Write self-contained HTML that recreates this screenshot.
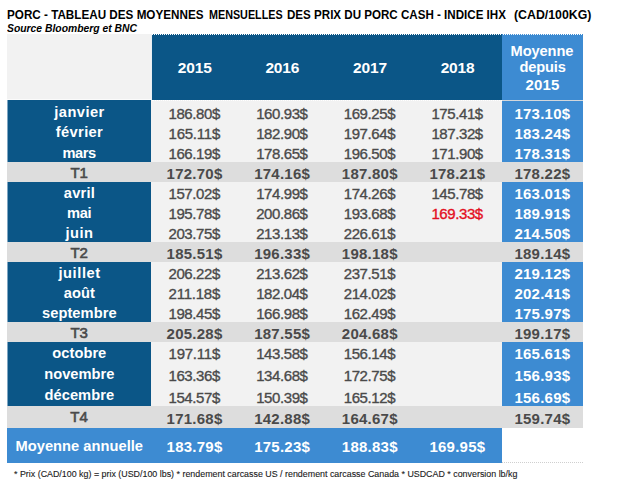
<!DOCTYPE html>
<html><head><meta charset="utf-8"><title>Porc</title>
<style>
html,body{margin:0;padding:0;background:#fff;}
body{width:624px;height:491px;position:relative;overflow:hidden;font-family:"Liberation Sans",sans-serif;}
.b{position:absolute;}
.t{position:absolute;white-space:nowrap;line-height:20px;height:20px;transform-origin:0 50%;}
.tb{font-weight:bold;}
.tr{font-weight:normal;-webkit-text-stroke:0.35px currentColor;}
.tbi{font-weight:bold;font-style:italic;}
.tl{font-weight:normal;-webkit-text-stroke:0.6px currentColor;}
.tf{font-weight:normal;-webkit-text-stroke:0.12px currentColor;}
</style></head><body>
<div class="b" style="left:7px;top:34px;width:144px;height:66px;background:#f2f2f2;"></div>
<div class="b" style="left:151px;top:35px;width:351px;height:65px;background:#0b5687;"></div>
<div class="b" style="left:502px;top:35px;width:81px;height:65px;background:#3d8bd2;"></div>
<div class="b" style="left:151px;top:34px;width:351px;height:0;border-top:1px dotted #0b5687;"></div>
<div class="b" style="left:502px;top:34px;width:81px;height:0;border-top:1px dotted #3d8bd2;"></div>
<div class="b" style="left:151px;top:34px;width:1px;height:66px;background:#e9eef3;"></div>
<div class="b" style="left:7px;top:100px;width:144px;height:21px;background:#0b5687;"></div>
<div class="b" style="left:151px;top:100px;width:351px;height:21px;background:#f2f2f2;"></div>
<div class="b" style="left:502px;top:100px;width:81px;height:21px;background:#3d8bd2;"></div>
<div class="b" style="left:7px;top:121px;width:144px;height:20px;background:#0b5687;"></div>
<div class="b" style="left:151px;top:121px;width:351px;height:20px;background:#f2f2f2;"></div>
<div class="b" style="left:502px;top:121px;width:81px;height:20px;background:#3d8bd2;"></div>
<div class="b" style="left:7px;top:141px;width:144px;height:21px;background:#0b5687;"></div>
<div class="b" style="left:151px;top:141px;width:351px;height:21px;background:#f2f2f2;"></div>
<div class="b" style="left:502px;top:141px;width:81px;height:21px;background:#3d8bd2;"></div>
<div class="b" style="left:7px;top:162px;width:576px;height:20px;background:#dddddd;"></div>
<div class="b" style="left:7px;top:182px;width:144px;height:20px;background:#0b5687;"></div>
<div class="b" style="left:151px;top:182px;width:351px;height:20px;background:#f2f2f2;"></div>
<div class="b" style="left:502px;top:182px;width:81px;height:20px;background:#3d8bd2;"></div>
<div class="b" style="left:7px;top:202px;width:144px;height:20px;background:#0b5687;"></div>
<div class="b" style="left:151px;top:202px;width:351px;height:20px;background:#f2f2f2;"></div>
<div class="b" style="left:502px;top:202px;width:81px;height:20px;background:#3d8bd2;"></div>
<div class="b" style="left:7px;top:222px;width:144px;height:20px;background:#0b5687;"></div>
<div class="b" style="left:151px;top:222px;width:351px;height:20px;background:#f2f2f2;"></div>
<div class="b" style="left:502px;top:222px;width:81px;height:20px;background:#3d8bd2;"></div>
<div class="b" style="left:7px;top:242px;width:576px;height:20px;background:#dddddd;"></div>
<div class="b" style="left:7px;top:262px;width:144px;height:20px;background:#0b5687;"></div>
<div class="b" style="left:151px;top:262px;width:351px;height:20px;background:#f2f2f2;"></div>
<div class="b" style="left:502px;top:262px;width:81px;height:20px;background:#3d8bd2;"></div>
<div class="b" style="left:7px;top:282px;width:144px;height:20px;background:#0b5687;"></div>
<div class="b" style="left:151px;top:282px;width:351px;height:20px;background:#f2f2f2;"></div>
<div class="b" style="left:502px;top:282px;width:81px;height:20px;background:#3d8bd2;"></div>
<div class="b" style="left:7px;top:302px;width:144px;height:20px;background:#0b5687;"></div>
<div class="b" style="left:151px;top:302px;width:351px;height:20px;background:#f2f2f2;"></div>
<div class="b" style="left:502px;top:302px;width:81px;height:20px;background:#3d8bd2;"></div>
<div class="b" style="left:7px;top:322px;width:576px;height:20px;background:#dddddd;"></div>
<div class="b" style="left:7px;top:342px;width:144px;height:21px;background:#0b5687;"></div>
<div class="b" style="left:151px;top:342px;width:351px;height:21px;background:#f2f2f2;"></div>
<div class="b" style="left:502px;top:342px;width:81px;height:21px;background:#3d8bd2;"></div>
<div class="b" style="left:7px;top:363px;width:144px;height:22px;background:#0b5687;"></div>
<div class="b" style="left:151px;top:363px;width:351px;height:22px;background:#f2f2f2;"></div>
<div class="b" style="left:502px;top:363px;width:81px;height:22px;background:#3d8bd2;"></div>
<div class="b" style="left:7px;top:385px;width:144px;height:21px;background:#0b5687;"></div>
<div class="b" style="left:151px;top:385px;width:351px;height:21px;background:#f2f2f2;"></div>
<div class="b" style="left:502px;top:385px;width:81px;height:21px;background:#3d8bd2;"></div>
<div class="b" style="left:7px;top:406px;width:576px;height:22px;background:#dddddd;"></div>
<div class="b" style="left:502px;top:100px;width:81px;height:1px;background:#d3d7db;"></div>
<div class="b" style="left:7px;top:99px;width:144px;height:1px;background:#fbfbfb;"></div>
<div class="b" style="left:7px;top:100px;width:1px;height:62px;background:#7fa6c2;"></div>
<div class="b" style="left:7px;top:182px;width:1px;height:60px;background:#7fa6c2;"></div>
<div class="b" style="left:7px;top:262px;width:1px;height:60px;background:#7fa6c2;"></div>
<div class="b" style="left:7px;top:342px;width:1px;height:64px;background:#7fa6c2;"></div>
<div class="b" style="left:152px;top:100px;width:350px;height:0;border-top:1px dotted #fff;"></div>
<div class="b" style="left:7px;top:428px;width:495px;height:35px;background:#3d8bd2;"></div>
<div class="b" style="left:502px;top:462px;width:81px;height:0;border-top:1px dotted #cfcfcf;"></div>
<div class="t tb" style="font-size:13px;color:#000;top:4.50px;left:7.00px;transform:scaleX(0.8989);">PORC - TABLEAU DES MOYENNES</div>
<div class="t tb" style="font-size:13px;color:#000;top:4.50px;left:208.50px;transform:scaleX(0.8284);">MENSUELLES</div>
<div class="t tb" style="font-size:13px;color:#000;top:4.50px;left:287.10px;transform:scaleX(0.8913);">DES PRIX DU PORC CASH - INDICE IHX</div>
<div class="t tb" style="font-size:13px;color:#000;top:4.50px;left:514.30px;transform:scaleX(0.9482);">(CAD/100KG)</div>
<div class="t tbi" style="font-size:11px;color:#000;top:18.19px;left:7.00px;transform:scaleX(0.9411);">Source Bloomberg et BNC</div>
<div class="t tb" style="font-size:15.5px;color:#fff;top:57.63px;left:177.75px;letter-spacing:-0.121px;">2015</div>
<div class="t tb" style="font-size:15.5px;color:#fff;top:57.63px;left:265.38px;letter-spacing:-0.121px;">2016</div>
<div class="t tb" style="font-size:15.5px;color:#fff;top:57.63px;left:353.00px;letter-spacing:-0.121px;">2017</div>
<div class="t tb" style="font-size:15.5px;color:#fff;top:57.63px;left:440.63px;letter-spacing:-0.121px;">2018</div>
<div class="t tb" style="font-size:14.67px;color:#fff;top:40.92px;left:510.59px;letter-spacing:-0.119px;">Moyenne</div>
<div class="t tb" style="font-size:14.67px;color:#fff;top:56.92px;left:519.60px;letter-spacing:-0.206px;">depuis</div>
<div class="t tb" style="font-size:15px;color:#fff;top:74.80px;left:525.48px;letter-spacing:0.156px;">2015</div>
<div class="t tb" style="font-size:14.67px;color:#fff;top:101.92px;left:54.28px;letter-spacing:0.462px;">janvier</div>
<div class="t tr" style="font-size:15px;color:#4a4a4a;top:103.80px;left:168.51px;letter-spacing:-0.405px;">186.80$</div>
<div class="t tr" style="font-size:15px;color:#4a4a4a;top:103.80px;left:256.14px;letter-spacing:-0.405px;">160.93$</div>
<div class="t tr" style="font-size:15px;color:#4a4a4a;top:103.80px;left:343.76px;letter-spacing:-0.405px;">169.25$</div>
<div class="t tr" style="font-size:15px;color:#4a4a4a;top:103.80px;left:431.39px;letter-spacing:-0.405px;">175.41$</div>
<div class="t tb" style="font-size:15px;color:#fff;top:103.80px;left:514.43px;letter-spacing:0.252px;">173.10$</div>
<div class="t tb" style="font-size:14.67px;color:#fff;top:121.92px;left:55.83px;letter-spacing:0.353px;">février</div>
<div class="t tr" style="font-size:15px;color:#4a4a4a;top:123.80px;left:168.59px;letter-spacing:-0.244px;">165.11$</div>
<div class="t tr" style="font-size:15px;color:#4a4a4a;top:123.80px;left:256.14px;letter-spacing:-0.405px;">182.90$</div>
<div class="t tr" style="font-size:15px;color:#4a4a4a;top:123.80px;left:343.76px;letter-spacing:-0.405px;">197.64$</div>
<div class="t tr" style="font-size:15px;color:#4a4a4a;top:123.80px;left:431.39px;letter-spacing:-0.405px;">187.32$</div>
<div class="t tb" style="font-size:15px;color:#fff;top:123.80px;left:514.43px;letter-spacing:0.252px;">183.24$</div>
<div class="t tb" style="font-size:14.67px;color:#fff;top:142.92px;left:62.54px;letter-spacing:-0.512px;">mars</div>
<div class="t tr" style="font-size:15px;color:#4a4a4a;top:143.80px;left:168.51px;letter-spacing:-0.405px;">166.19$</div>
<div class="t tr" style="font-size:15px;color:#4a4a4a;top:143.80px;left:256.14px;letter-spacing:-0.405px;">178.65$</div>
<div class="t tr" style="font-size:15px;color:#4a4a4a;top:143.80px;left:343.76px;letter-spacing:-0.405px;">196.50$</div>
<div class="t tr" style="font-size:15px;color:#4a4a4a;top:143.80px;left:431.39px;letter-spacing:-0.405px;">171.90$</div>
<div class="t tb" style="font-size:15px;color:#fff;top:143.80px;left:514.43px;letter-spacing:0.252px;">178.31$</div>
<div class="t tl" style="font-size:15px;color:#4a4a4a;top:162.80px;left:70.42px;letter-spacing:-0.158px;">T1</div>
<div class="t tb" style="font-size:15px;color:#4a4a4a;top:163.80px;left:166.54px;letter-spacing:0.252px;">172.70$</div>
<div class="t tb" style="font-size:15px;color:#4a4a4a;top:163.80px;left:254.16px;letter-spacing:0.252px;">174.16$</div>
<div class="t tb" style="font-size:15px;color:#4a4a4a;top:163.80px;left:341.79px;letter-spacing:0.252px;">187.80$</div>
<div class="t tb" style="font-size:15px;color:#4a4a4a;top:163.80px;left:429.41px;letter-spacing:0.252px;">178.21$</div>
<div class="t tb" style="font-size:15px;color:#4a4a4a;top:163.80px;left:514.43px;letter-spacing:0.252px;">178.22$</div>
<div class="t tb" style="font-size:14.67px;color:#fff;top:182.92px;left:63.84px;letter-spacing:0.189px;">avril</div>
<div class="t tr" style="font-size:15px;color:#4a4a4a;top:183.80px;left:168.51px;letter-spacing:-0.405px;">157.02$</div>
<div class="t tr" style="font-size:15px;color:#4a4a4a;top:183.80px;left:256.14px;letter-spacing:-0.405px;">174.99$</div>
<div class="t tr" style="font-size:15px;color:#4a4a4a;top:183.80px;left:343.76px;letter-spacing:-0.405px;">174.26$</div>
<div class="t tr" style="font-size:15px;color:#4a4a4a;top:183.80px;left:431.39px;letter-spacing:-0.405px;">145.78$</div>
<div class="t tb" style="font-size:15px;color:#fff;top:183.80px;left:514.43px;letter-spacing:0.252px;">163.01$</div>
<div class="t tb" style="font-size:14.67px;color:#fff;top:202.92px;left:66.92px;letter-spacing:-0.255px;">mai</div>
<div class="t tr" style="font-size:15px;color:#4a4a4a;top:203.80px;left:168.51px;letter-spacing:-0.405px;">195.78$</div>
<div class="t tr" style="font-size:15px;color:#4a4a4a;top:203.80px;left:256.14px;letter-spacing:-0.405px;">200.86$</div>
<div class="t tr" style="font-size:15px;color:#4a4a4a;top:203.80px;left:343.76px;letter-spacing:-0.405px;">193.68$</div>
<div class="t tr" style="font-size:15px;color:#e30f22;top:203.80px;left:431.39px;letter-spacing:-0.405px;">169.33$</div>
<div class="t tb" style="font-size:15px;color:#fff;top:203.80px;left:514.43px;letter-spacing:0.252px;">189.91$</div>
<div class="t tb" style="font-size:14.67px;color:#fff;top:222.92px;left:65.54px;letter-spacing:0.484px;">juin</div>
<div class="t tr" style="font-size:15px;color:#4a4a4a;top:223.80px;left:168.51px;letter-spacing:-0.405px;">203.75$</div>
<div class="t tr" style="font-size:15px;color:#4a4a4a;top:223.80px;left:256.14px;letter-spacing:-0.405px;">213.13$</div>
<div class="t tr" style="font-size:15px;color:#4a4a4a;top:223.80px;left:343.76px;letter-spacing:-0.405px;">226.61$</div>
<div class="t tb" style="font-size:15px;color:#fff;top:223.80px;left:514.43px;letter-spacing:0.252px;">214.50$</div>
<div class="t tl" style="font-size:15px;color:#4a4a4a;top:242.80px;left:70.42px;letter-spacing:-0.158px;">T2</div>
<div class="t tb" style="font-size:15px;color:#4a4a4a;top:243.80px;left:166.54px;letter-spacing:0.252px;">185.51$</div>
<div class="t tb" style="font-size:15px;color:#4a4a4a;top:243.80px;left:254.16px;letter-spacing:0.252px;">196.33$</div>
<div class="t tb" style="font-size:15px;color:#4a4a4a;top:243.80px;left:341.79px;letter-spacing:0.252px;">198.18$</div>
<div class="t tb" style="font-size:15px;color:#4a4a4a;top:243.80px;left:514.43px;letter-spacing:0.252px;">189.14$</div>
<div class="t tb" style="font-size:14.67px;color:#fff;top:262.92px;left:58.44px;letter-spacing:0.574px;">juillet</div>
<div class="t tr" style="font-size:15px;color:#4a4a4a;top:263.80px;left:168.51px;letter-spacing:-0.405px;">206.22$</div>
<div class="t tr" style="font-size:15px;color:#4a4a4a;top:263.80px;left:256.14px;letter-spacing:-0.405px;">213.62$</div>
<div class="t tr" style="font-size:15px;color:#4a4a4a;top:263.80px;left:343.76px;letter-spacing:-0.405px;">237.51$</div>
<div class="t tb" style="font-size:15px;color:#fff;top:263.80px;left:514.43px;letter-spacing:0.252px;">219.12$</div>
<div class="t tb" style="font-size:14.67px;color:#fff;top:282.92px;left:63.73px;letter-spacing:0.066px;">août</div>
<div class="t tr" style="font-size:15px;color:#4a4a4a;top:283.80px;left:168.59px;letter-spacing:-0.244px;">211.18$</div>
<div class="t tr" style="font-size:15px;color:#4a4a4a;top:283.80px;left:256.14px;letter-spacing:-0.405px;">182.04$</div>
<div class="t tr" style="font-size:15px;color:#4a4a4a;top:283.80px;left:343.76px;letter-spacing:-0.405px;">214.02$</div>
<div class="t tb" style="font-size:15px;color:#fff;top:283.80px;left:514.43px;letter-spacing:0.252px;">202.41$</div>
<div class="t tb" style="font-size:14.67px;color:#fff;top:302.92px;left:41.98px;letter-spacing:0.062px;">septembre</div>
<div class="t tr" style="font-size:15px;color:#4a4a4a;top:303.80px;left:168.51px;letter-spacing:-0.405px;">198.45$</div>
<div class="t tr" style="font-size:15px;color:#4a4a4a;top:303.80px;left:256.14px;letter-spacing:-0.405px;">166.98$</div>
<div class="t tr" style="font-size:15px;color:#4a4a4a;top:303.80px;left:343.76px;letter-spacing:-0.405px;">162.49$</div>
<div class="t tb" style="font-size:15px;color:#fff;top:303.80px;left:514.43px;letter-spacing:0.252px;">175.97$</div>
<div class="t tl" style="font-size:15px;color:#4a4a4a;top:322.80px;left:70.40px;letter-spacing:-0.108px;">T3</div>
<div class="t tb" style="font-size:15px;color:#4a4a4a;top:323.80px;left:166.54px;letter-spacing:0.252px;">205.28$</div>
<div class="t tb" style="font-size:15px;color:#4a4a4a;top:323.80px;left:254.16px;letter-spacing:0.252px;">187.55$</div>
<div class="t tb" style="font-size:15px;color:#4a4a4a;top:323.80px;left:341.79px;letter-spacing:0.252px;">204.68$</div>
<div class="t tb" style="font-size:15px;color:#4a4a4a;top:323.80px;left:514.43px;letter-spacing:0.252px;">199.17$</div>
<div class="t tb" style="font-size:14.67px;color:#fff;top:342.92px;left:52.32px;letter-spacing:0.036px;">octobre</div>
<div class="t tr" style="font-size:15px;color:#4a4a4a;top:343.80px;left:168.59px;letter-spacing:-0.244px;">197.11$</div>
<div class="t tr" style="font-size:15px;color:#4a4a4a;top:343.80px;left:256.14px;letter-spacing:-0.405px;">143.58$</div>
<div class="t tr" style="font-size:15px;color:#4a4a4a;top:343.80px;left:343.76px;letter-spacing:-0.405px;">156.14$</div>
<div class="t tb" style="font-size:15px;color:#fff;top:343.80px;left:514.43px;letter-spacing:0.252px;">165.61$</div>
<div class="t tb" style="font-size:14.67px;color:#fff;top:363.92px;left:44.25px;letter-spacing:0.007px;">novembre</div>
<div class="t tr" style="font-size:15px;color:#4a4a4a;top:365.80px;left:168.51px;letter-spacing:-0.405px;">163.36$</div>
<div class="t tr" style="font-size:15px;color:#4a4a4a;top:365.80px;left:256.14px;letter-spacing:-0.405px;">134.68$</div>
<div class="t tr" style="font-size:15px;color:#4a4a4a;top:365.80px;left:343.76px;letter-spacing:-0.405px;">172.75$</div>
<div class="t tb" style="font-size:15px;color:#fff;top:365.80px;left:514.43px;letter-spacing:0.252px;">156.93$</div>
<div class="t tb" style="font-size:14.67px;color:#fff;top:384.92px;left:44.52px;letter-spacing:0.044px;">décembre</div>
<div class="t tr" style="font-size:15px;color:#4a4a4a;top:387.80px;left:168.51px;letter-spacing:-0.405px;">154.57$</div>
<div class="t tr" style="font-size:15px;color:#4a4a4a;top:387.80px;left:256.14px;letter-spacing:-0.405px;">150.39$</div>
<div class="t tr" style="font-size:15px;color:#4a4a4a;top:387.80px;left:343.76px;letter-spacing:-0.405px;">165.12$</div>
<div class="t tb" style="font-size:15px;color:#fff;top:387.80px;left:514.43px;letter-spacing:0.252px;">156.69$</div>
<div class="t tl" style="font-size:15px;color:#4a4a4a;top:406.80px;left:70.35px;letter-spacing:-0.008px;">T4</div>
<div class="t tb" style="font-size:15px;color:#4a4a4a;top:408.80px;left:166.54px;letter-spacing:0.252px;">171.68$</div>
<div class="t tb" style="font-size:15px;color:#4a4a4a;top:408.80px;left:254.16px;letter-spacing:0.252px;">142.88$</div>
<div class="t tb" style="font-size:15px;color:#4a4a4a;top:408.80px;left:341.79px;letter-spacing:0.252px;">164.67$</div>
<div class="t tb" style="font-size:15px;color:#4a4a4a;top:408.80px;left:514.43px;letter-spacing:0.252px;">159.74$</div>
<div class="t tb" style="font-size:14.67px;color:#fff;top:435.92px;left:15.56px;letter-spacing:0.027px;">Moyenne annuelle</div>
<div class="t tb" style="font-size:15px;color:#fff;top:436.80px;left:166.54px;letter-spacing:0.252px;">183.79$</div>
<div class="t tb" style="font-size:15px;color:#fff;top:436.80px;left:254.16px;letter-spacing:0.252px;">175.23$</div>
<div class="t tb" style="font-size:15px;color:#fff;top:436.80px;left:341.79px;letter-spacing:0.252px;">188.83$</div>
<div class="t tb" style="font-size:15px;color:#fff;top:436.80px;left:429.41px;letter-spacing:0.252px;">169.95$</div>
<div class="t tf" style="font-size:9.2px;color:#1a1a1a;top:463.81px;left:14.10px;transform:scaleX(0.9660);">* Prix (CAD/100 kg) = prix (USD/100 lbs) * rendement carcasse US / rendement carcasse Canada * USDCAD * conversion lb/kg</div>
</body></html>
